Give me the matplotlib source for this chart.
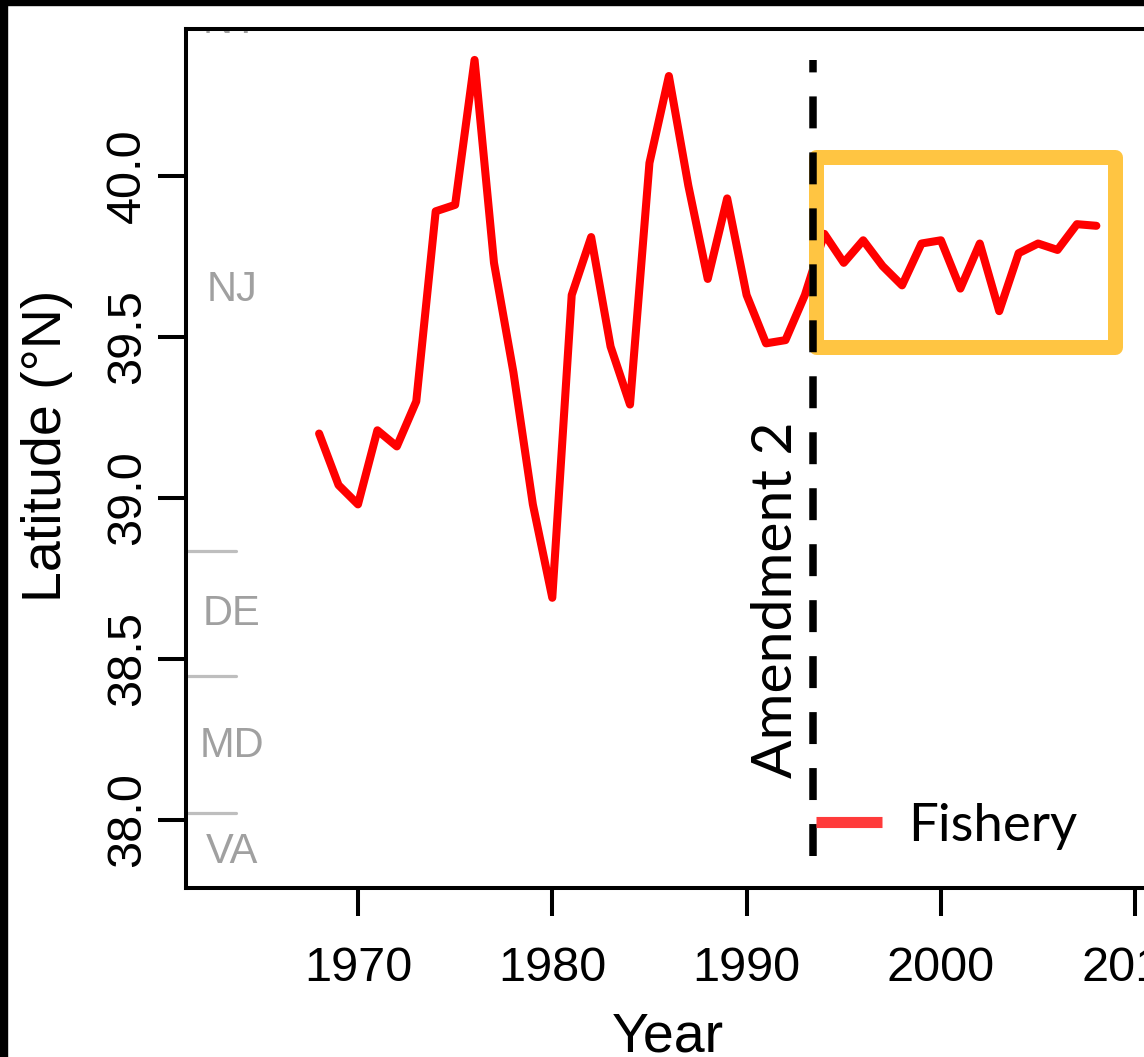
import matplotlib
matplotlib.use("Agg")
import matplotlib.pyplot as plt
from matplotlib.patches import Rectangle

# ---------------- data ----------------
years = list(range(1968, 2009))
latitude = [39.20, 39.04, 38.98, 39.21, 39.16, 39.30, 39.89, 39.91, 40.36, 39.73,
            39.39, 38.98, 38.69, 39.63, 39.81, 39.47, 39.29, 40.04, 40.31, 39.97,
            39.68, 39.93, 39.63, 39.48, 39.49, 39.63, 39.82, 39.73, 39.80, 39.72,
            39.66, 39.79, 39.80, 39.65, 39.79, 39.58, 39.76, 39.79, 39.77, 39.85,
            39.845]
x_ticks = [1970, 1980, 1990, 2000, 2010]
y_ticks = [38.0, 38.5, 39.0, 39.5, 40.0]
y_tick_labels = ["38.0", "38.5", "39.0", "39.5", "40.0"]

state_names = ["NY", "NJ", "DE", "MD", "VA"]
state_label_lat = [40.478, 39.646, 38.64, 38.23, 37.90]
state_border_lat = [38.835, 38.447, 38.022]

amendment_year = 1993.4
amendment_span = [37.888, 40.36]
box_years = [1993.59, 2008.98]
box_lat = [39.47, 40.059]

# ---------------- figure ----------------
W, H = 1144, 1057
fig = plt.figure(figsize=(W / 100, H / 100), dpi=100)
fig.patch.set_facecolor("white")

left_px, right_px, top_px, bottom_px = 186, 1150, 29, 888
ax = fig.add_axes([left_px / W, 1 - bottom_px / H,
                   (right_px - left_px) / W, (bottom_px - top_px) / H])
ax.set_xlim(1961.15, 2010.76)
ax.set_ylim(37.789, 40.456)

tick_font = "Liberation Sans"
deco_font = "Lato"

# fishery line
ax.plot(years, latitude, color="#FF0000", lw=5.8, solid_joinstyle="round",
        solid_capstyle="round", zorder=3, label="Fishery")

# orange highlight box
ax.add_patch(Rectangle((box_years[0], box_lat[0]), box_years[1] - box_years[0],
                       box_lat[1] - box_lat[0], fill=False, ec="#FFC542",
                       lw=10.8, joinstyle="round", zorder=4))

# amendment dashed line
dash_lw = 5.4
vl, = ax.plot([amendment_year, amendment_year], amendment_span, color="black",
              lw=dash_lw, zorder=5)
vl.set_linestyle((0, (23.0 / dash_lw, 17.3 / dash_lw)))
vl.set_dash_capstyle("butt")
ax.text(1991.55, 38.13, "Amendment 2", rotation=90, ha="center", va="bottom",
        fontsize=41, family=deco_font, color="black", zorder=6)

# state borders and labels
for b in state_border_lat:
    ax.plot([1961.15, 1963.72], [b, b], color="#BEBEBE", lw=2.3,
            solid_capstyle="round", zorder=2)
for name, lat in zip(state_names, state_label_lat):
    ax.text(1963.5, lat, name, ha="center", va="center", fontsize=30,
            family=tick_font, color="#A0A0A0", zorder=2, clip_on=True)

# axes styling
for s in ax.spines.values():
    s.set_linewidth(2.9)
    s.set_color("black")
ax.set_xticks(x_ticks)
ax.set_xticklabels([str(v) for v in x_ticks], fontsize=35, family=tick_font)
ax.set_yticks(y_ticks)
ax.set_yticklabels(y_tick_labels, fontsize=35, family=tick_font, rotation=90,
                   va="center")
ax.tick_params(axis="both", direction="out", length=20, width=2.9, color="black")
ax.tick_params(axis="x", pad=22)
ax.tick_params(axis="y", pad=6)

ax.set_xlabel("Year", fontsize=40, family=tick_font)
ax.xaxis.set_label_coords(0.5, (bottom_px - 1037) / (bottom_px - top_px))
ax.xaxis.label.set_va("center")
ax.set_ylabel("Latitude (°N)", fontsize=40, family=tick_font)
ax.yaxis.set_label_coords((47 - left_px) / (right_px - left_px), 0.515)
ax.yaxis.label.set_va("center")

leg = ax.legend(loc="center left",
                bbox_to_anchor=((816 - left_px) / (right_px - left_px),
                                (bottom_px - 826) / (bottom_px - top_px)),
                frameon=False, borderpad=0, borderaxespad=0,
                handlelength=1.25, handletextpad=0.5,
                prop={"family": deco_font, "size": 38})
for h in leg.get_lines():
    h.set_color("#FF3B3B")
    h.set_linewidth(8)
    h.set_solid_capstyle("butt")

# black frame edges of the original device
fig.patches.append(Rectangle((0, 1 - 5 / H), 1, 5 / H, transform=fig.transFigure,
                             color="black", zorder=10))
fig.patches.append(Rectangle((0, 0), 7 / W, 1, transform=fig.transFigure,
                             color="black", zorder=10))

fig.savefig("out.png", dpi=100, facecolor="white")
